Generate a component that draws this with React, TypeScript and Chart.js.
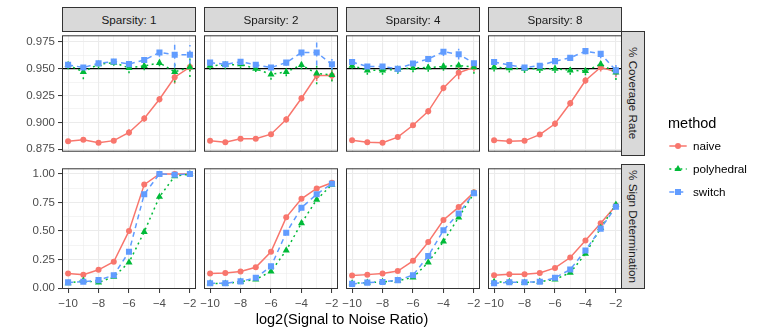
import React, { useEffect, useRef } from 'react';
import { Chart, registerables } from 'chart.js';

Chart.register(...registerables);

// ---------- data ----------
const xValues = [-10, -9, -8, -7, -6, -5, -4, -3, -2];
const sparsityLabels = ['Sparsity: 1', 'Sparsity: 2', 'Sparsity: 4', 'Sparsity: 8'];
const rowLabels = ['% Coverage Rate', '% Sign Determination'];
const methods = ['naive', 'polyhedral', 'switch'];

// % Coverage Rate
const coverNaive1 = [0.8825, 0.8838, 0.881, 0.883, 0.8906, 0.9036, 0.9215, 0.942, 0.9515];
const coverPoly1 = [0.9533, 0.947, 0.954, 0.9556, 0.9507, 0.9525, 0.9553, 0.947, 0.9513];
const coverSwitch1 = [0.9536, 0.951, 0.955, 0.9566, 0.9542, 0.958, 0.965, 0.9629, 0.9629];
const coverNaive2 = [0.8828, 0.8814, 0.8848, 0.8848, 0.889, 0.9027, 0.9224, 0.9435, 0.9435];
const coverPoly2 = [0.9528, 0.9533, 0.954, 0.9499, 0.9446, 0.947, 0.9533, 0.9455, 0.9441];
const coverSwitch2 = [0.9556, 0.954, 0.9563, 0.9536, 0.951, 0.9556, 0.965, 0.965, 0.954];
const coverNaive4 = [0.8834, 0.8814, 0.8811, 0.8863, 0.8973, 0.9103, 0.932, 0.9461, 0.9513];
const coverPoly4 = [0.9528, 0.9484, 0.9484, 0.9493, 0.9507, 0.951, 0.952, 0.953, 0.9513];
const coverSwitch4 = [0.9561, 0.952, 0.952, 0.9499, 0.9547, 0.959, 0.9657, 0.9634, 0.955];
const coverNaive8 = [0.8834, 0.8825, 0.8828, 0.8886, 0.8987, 0.9178, 0.9389, 0.9513, 0.947];
const coverPoly8 = [0.9513, 0.9504, 0.9499, 0.9499, 0.9499, 0.9484, 0.9478, 0.9542, 0.9464];
const coverSwitch8 = [0.9561, 0.9533, 0.951, 0.9527, 0.957, 0.96, 0.9663, 0.9637, 0.9484];

// error half-widths for % Coverage Rate
const errNaive1 = [0.002, 0.002, 0.002, 0.002, 0.003, 0.003, 0.003, 0.006, 0.004];
const errPoly1 = [0.004, 0.007, 0.004, 0.003, 0.005, 0.004, 0.003, 0.01, 0.009];
const errSwitch1 = [0.003, 0.003, 0.003, 0.003, 0.003, 0.003, 0.004, 0.012, 0.009];
const errNaive2 = [0.002, 0.002, 0.002, 0.002, 0.002, 0.003, 0.003, 0.005, 0.005];
const errPoly2 = [0.004, 0.004, 0.004, 0.003, 0.005, 0.004, 0.004, 0.01, 0.006];
const errSwitch2 = [0.003, 0.003, 0.003, 0.003, 0.003, 0.003, 0.004, 0.012, 0.005];
const errNaive4 = [0.002, 0.002, 0.002, 0.002, 0.002, 0.003, 0.003, 0.006, 0.004];
const errPoly4 = [0.003, 0.004, 0.004, 0.004, 0.004, 0.004, 0.004, 0.005, 0.006];
const errSwitch4 = [0.003, 0.003, 0.003, 0.004, 0.003, 0.003, 0.004, 0.005, 0.004];
const errNaive8 = [0.002, 0.002, 0.002, 0.002, 0.003, 0.003, 0.003, 0.004, 0.005];
const errPoly8 = [0.004, 0.004, 0.004, 0.004, 0.004, 0.004, 0.004, 0.004, 0.007];
const errSwitch8 = [0.003, 0.003, 0.003, 0.003, 0.003, 0.003, 0.003, 0.004, 0.005];

// % Sign Determination
const signNaive1 = [0.127, 0.118, 0.16, 0.231, 0.501, 0.907, 1.0, 1.0, 1.0];
const signPoly1 = [0.042, 0.065, 0.05, 0.099, 0.225, 0.493, 0.8, 0.98, 1.0];
const signSwitch1 = [0.05, 0.056, 0.07, 0.113, 0.318, 0.823, 1.0, 0.994, 1.0];
const signNaive2 = [0.127, 0.132, 0.146, 0.183, 0.318, 0.62, 0.783, 0.873, 0.924];
const signPoly2 = [0.042, 0.039, 0.056, 0.076, 0.146, 0.33, 0.569, 0.775, 0.907];
const signSwitch2 = [0.042, 0.042, 0.059, 0.09, 0.19, 0.485, 0.704, 0.823, 0.915];
const signNaive4 = [0.11, 0.118, 0.127, 0.149, 0.239, 0.403, 0.597, 0.71, 0.839];
const signPoly4 = [0.042, 0.048, 0.054, 0.065, 0.093, 0.225, 0.408, 0.62, 0.831];
const signSwitch4 = [0.037, 0.048, 0.054, 0.07, 0.113, 0.282, 0.507, 0.654, 0.831];
const signNaive8 = [0.113, 0.121, 0.121, 0.132, 0.177, 0.268, 0.417, 0.569, 0.724];
const signPoly8 = [0.054, 0.054, 0.048, 0.056, 0.076, 0.135, 0.301, 0.527, 0.732];
const signSwitch8 = [0.042, 0.051, 0.051, 0.056, 0.09, 0.163, 0.33, 0.521, 0.713];

// ticks
const xTicks = [-10, -9, -8, -7, -6, -5, -4, -3, -2];
const xMajor = [-10, -8, -6, -4, -2];
const xLabels = ['\u221210', '\u22128', '\u22126', '\u22124', '\u22122'];
const coverTicks = [0.875, 0.8875, 0.9, 0.9125, 0.925, 0.9375, 0.95, 0.9625, 0.975];
const coverMajor = [0.875, 0.9, 0.925, 0.95, 0.975];
const coverLabels = ['0.875', '0.900', '0.925', '0.950', '0.975'];
const signTicks = [0, 0.125, 0.25, 0.375, 0.5, 0.625, 0.75, 0.875, 1.0];
const signMajor = [0, 0.25, 0.5, 0.75, 1.0];
const signLabels = ['0.00', '0.25', '0.50', '0.75', '1.00'];
const xRange = [-10.4, -1.6];
const coverRange = [0.8727, 0.981];
const signRange = [-0.008, 1.05];
const referenceLevel = 0.95;

// tables built from the arrays above
const coverData = [
  [coverNaive1, coverPoly1, coverSwitch1],
  [coverNaive2, coverPoly2, coverSwitch2],
  [coverNaive4, coverPoly4, coverSwitch4],
  [coverNaive8, coverPoly8, coverSwitch8],
];
const coverErr = [
  [errNaive1, errPoly1, errSwitch1],
  [errNaive2, errPoly2, errSwitch2],
  [errNaive4, errPoly4, errSwitch4],
  [errNaive8, errPoly8, errSwitch8],
];
const signData = [
  [signNaive1, signPoly1, signSwitch1],
  [signNaive2, signPoly2, signSwitch2],
  [signNaive4, signPoly4, signSwitch4],
  [signNaive8, signPoly8, signSwitch8],
];

// ---------- styles ----------
const FONT = '"Liberation Sans", Arial, Helvetica, sans-serif';
const COLORS: Record<string, string> = { naive: '#F8766D', polyhedral: '#00BA38', switch: '#619CFF' };
const DASH: Record<string, number[]> = { naive: [], polyhedral: [2, 3.5], switch: [5, 4] };
const POINT: Record<string, string> = { naive: 'circle', polyhedral: 'triangle', switch: 'rect' };
const RADIUS: Record<string, number> = { naive: 3, polyhedral: 4.1, switch: 4.3 };

const PANEL_X = [62, 204, 346, 488];
const PANEL_Y = [31, 164];
const PANEL_W = 134;
const PANEL_H = 125;
const AXW = 62;
const AXH = 28;
const SIDE = 14;

const near = (a: number, b: number) => Math.abs(a - b) < 1e-6;
const labelFor = (v: number, major: number[], labels: string[]) => {
  const k = major.findIndex((m) => near(m, v));
  return k >= 0 ? labels[k] : '';
};
const isMajor = (v: number, major: number[]) => major.some((m) => near(m, v));

function Panel({ row, col }: { row: number; col: number }) {
  const ref = useRef<HTMLCanvasElement | null>(null);
  const padL = col === 0 ? AXW : SIDE;
  const w = padL + PANEL_W + SIDE;
  const h = PANEL_H + (row === 1 ? AXH : 0);

  useEffect(() => {
    if (!ref.current) return;
    const series = row === 0 ? coverData[col] : signData[col];
    const errors = row === 0 ? coverErr[col] : null;
    const yTicks = row === 0 ? coverTicks : signTicks;
    const yMajor = row === 0 ? coverMajor : signMajor;
    const yLabels = row === 0 ? coverLabels : signLabels;
    const yRange = row === 0 ? coverRange : signRange;

    const datasets = methods.map((m, i) => ({
      label: m,
      data: xValues.map((x, j) => ({ x, y: series[i][j] })),
      borderColor: COLORS[m],
      backgroundColor: COLORS[m],
      borderWidth: 1.5,
      borderDash: DASH[m],
      pointStyle: POINT[m],
      pointRadius: RADIUS[m],
      pointBorderWidth: 0,
      pointBackgroundColor: COLORS[m],
      pointBorderColor: COLORS[m],
      tension: 0,
      fill: false,
      order: 2 - i,
    }));

    const overlay = {
      id: 'overlay',
      beforeDatasetsDraw(chart: any) {
        const { ctx, chartArea, scales } = chart;
        const xs = scales.x;
        const ys = scales.y;
        ctx.save();
        ctx.beginPath();
        ctx.rect(chartArea.left, chartArea.top, chartArea.right - chartArea.left, chartArea.bottom - chartArea.top);
        ctx.clip();
        if (row === 0) {
          const yp = ys.getPixelForValue(referenceLevel);
          ctx.strokeStyle = '#000000';
          ctx.lineWidth = 1.4;
          ctx.setLineDash([]);
          ctx.beginPath();
          ctx.moveTo(chartArea.left, yp);
          ctx.lineTo(chartArea.right, yp);
          ctx.stroke();
        }
        if (errors) {
          methods.forEach((m, i) => {
            ctx.strokeStyle = COLORS[m];
            ctx.lineWidth = 1.5;
            ctx.setLineDash(DASH[m]);
            xValues.forEach((x, j) => {
              const xp = xs.getPixelForValue(x);
              const y1 = ys.getPixelForValue(series[i][j] - errors[i][j]);
              const y2 = ys.getPixelForValue(series[i][j] + errors[i][j]);
              ctx.beginPath();
              ctx.moveTo(xp, y1);
              ctx.lineTo(xp, y2);
              ctx.stroke();
            });
          });
        }
        ctx.restore();
      },
      afterDraw(chart: any) {
        const { ctx, chartArea } = chart;
        ctx.save();
        ctx.strokeStyle = '#333333';
        ctx.lineWidth = 1;
        ctx.setLineDash([]);
        ctx.strokeRect(
          chartArea.left + 0.5,
          chartArea.top + 0.5,
          chartArea.right - chartArea.left - 1,
          chartArea.bottom - chartArea.top - 1
        );
        ctx.restore();
      },
    };

    const tickFont = { family: FONT, size: 11.5 };
    const chart = new Chart(ref.current, {
      type: 'line',
      data: { datasets: datasets as any },
      plugins: [overlay],
      options: {
        animation: false,
        responsive: false,
        maintainAspectRatio: false,
        devicePixelRatio: 1,
        events: [],
        layout: { padding: { left: col === 0 ? 0 : SIDE, right: SIDE, top: 0, bottom: 0 } },
        plugins: { legend: { display: false }, tooltip: { enabled: false }, title: { display: false } },
        scales: {
          x: {
            type: 'linear',
            min: xRange[0],
            max: xRange[1],
            afterBuildTicks: (s: any) => {
              s.ticks = xTicks.map((v) => ({ value: v }));
            },
            afterFit: (s: any) => {
              s.height = row === 1 ? AXH : 0;
              s.paddingLeft = 0;
              s.paddingRight = 0;
              s.paddingTop = 0;
              s.paddingBottom = 0;
            },
            ticks: {
              display: row === 1,
              autoSkip: false,
              maxRotation: 0,
              padding: 4,
              color: '#4D4D4D',
              font: tickFont,
              callback: (v: any) => labelFor(Number(v), xMajor, xLabels),
            },
            grid: {
              color: '#EBEBEB',
              lineWidth: (c: any) => (c.tick && isMajor(c.tick.value, xMajor) ? 1.1 : 0.55),
              drawTicks: row === 1,
              tickLength: 4,
              tickWidth: 1,
              tickColor: (c: any) => (c.tick && isMajor(c.tick.value, xMajor) ? '#333333' : 'rgba(0,0,0,0)'),
            },
            border: { display: false },
          },
          y: {
            type: 'linear',
            min: yRange[0],
            max: yRange[1],
            afterBuildTicks: (s: any) => {
              s.ticks = yTicks.map((v) => ({ value: v }));
            },
            afterFit: (s: any) => {
              s.width = col === 0 ? AXW : 0;
              s.paddingTop = 0;
              s.paddingBottom = 0;
              s.paddingLeft = 0;
              s.paddingRight = 0;
            },
            ticks: {
              display: col === 0,
              autoSkip: false,
              padding: 3,
              color: '#4D4D4D',
              font: tickFont,
              callback: (v: any) => labelFor(Number(v), yMajor, yLabels),
            },
            grid: {
              color: '#EBEBEB',
              lineWidth: (c: any) => (c.tick && isMajor(c.tick.value, yMajor) ? 1.1 : 0.55),
              drawTicks: col === 0,
              tickLength: 4,
              tickWidth: 1,
              tickColor: (c: any) => (c.tick && isMajor(c.tick.value, yMajor) ? '#333333' : 'rgba(0,0,0,0)'),
            },
            border: { display: false },
          },
        },
      } as any,
    });
    return () => chart.destroy();
  }, [row, col]);

  return (
    <canvas
      ref={ref}
      width={w}
      height={h}
      style={{
        position: 'absolute',
        left: PANEL_X[col] - padL,
        top: PANEL_Y[row],
        width: w,
        height: h,
        display: 'block',
      }}
    />
  );
}

function LegendKey({ method }: { method: string }) {
  const c = COLORS[method];
  let marker: any = null;
  if (method === 'naive') marker = <circle cx={10} cy={9} r={3} fill={c} />;
  if (method === 'polyhedral') marker = <polygon points="10,4.9 13.6,11.1 6.4,11.1" fill={c} />;
  if (method === 'switch') marker = <rect x={7} y={6} width={6} height={6} fill={c} />;
  return (
    <svg width={20} height={18} style={{ position: 'absolute', left: 0, top: 0 }}>
      <line x1={1.3} y1={9} x2={18.7} y2={9} stroke={c} strokeWidth={1.5} strokeDasharray={DASH[method].join(' ') || undefined} />
      {marker}
    </svg>
  );
}

export default function App() {
  const legendY = [146, 169, 192];
  return (
    <div
      style={{
        position: 'absolute',
        left: 0,
        top: 0,
        width: 763,
        height: 334,
        background: '#ffffff',
        fontFamily: FONT,
        overflow: 'hidden',
      }}
    >
      {[0, 1].map((r) => [0, 1, 2, 3].map((c) => <Panel key={`p${r}${c}`} row={r} col={c} />))}

      {sparsityLabels.map((t, c) => (
        <div
          key={t}
          style={{
            position: 'absolute',
            left: PANEL_X[c],
            top: 7,
            width: PANEL_W,
            height: 25,
            boxSizing: 'border-box',
            border: '1px solid #333333',
            background: '#D9D9D9',
            display: 'flex',
            alignItems: 'center',
            justifyContent: 'center',
            fontSize: 11.7,
            color: '#1A1A1A',
            lineHeight: '14px',
          }}
        >
          {t}
        </div>
      ))}

      {rowLabels.map((t, r) => (
        <div
          key={t}
          style={{
            position: 'absolute',
            left: PANEL_X[3] + PANEL_W - 1,
            top: PANEL_Y[r],
            width: 24,
            height: PANEL_H,
            boxSizing: 'border-box',
            border: '1px solid #333333',
            background: '#D9D9D9',
            display: 'flex',
            alignItems: 'center',
            justifyContent: 'center',
            fontSize: 11.7,
            color: '#1A1A1A',
          }}
        >
          <span style={{ writingMode: 'vertical-rl', whiteSpace: 'nowrap', lineHeight: '14px' }}>{t}</span>
        </div>
      ))}

      <div
        style={{
          position: 'absolute',
          left: PANEL_X[0],
          width: PANEL_X[3] + PANEL_W - PANEL_X[0],
          top: 310,
          height: 18,
          lineHeight: '18px',
          textAlign: 'center',
          fontSize: 14.5,
          color: '#000000',
        }}
      >
        log2(Signal to Noise Ratio)
      </div>

      <div style={{ position: 'absolute', left: 668, top: 114, height: 18, lineHeight: '18px', fontSize: 14.5, color: '#000' }}>
        method
      </div>
      {methods.map((m, i) => (
        <div key={m} style={{ position: 'absolute', left: 668, top: legendY[i] - 9, width: 95, height: 18 }}>
          <LegendKey method={m} />
          <span
            style={{
              position: 'absolute',
              left: 25,
              top: 0,
              lineHeight: '18px',
              fontSize: 11.7,
              color: '#000',
              whiteSpace: 'nowrap',
            }}
          >
            {m}
          </span>
        </div>
      ))}
    </div>
  );
}
